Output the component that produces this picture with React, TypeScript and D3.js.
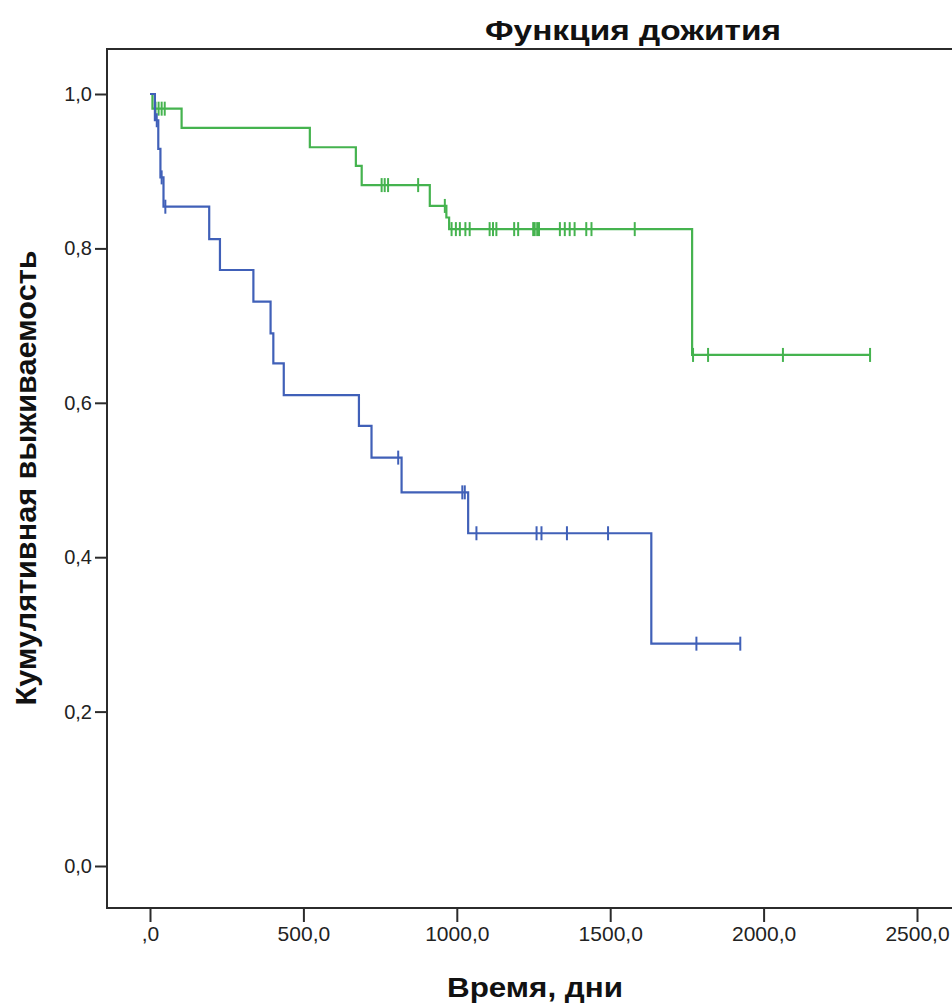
import * as d3 from "d3";
import { useEffect, useRef } from "react";

// Kaplan-Meier steps (time in days, survival after the event)
const greenTimes = [0, 8, 103, 521, 671, 690, 912, 966, 975, 1767];
const greenSurv = [1.0, 0.981, 0.956, 0.931, 0.907, 0.882, 0.855, 0.84, 0.825, 0.662];
const greenCensored = [18, 28, 38, 48, 755, 765, 776, 874, 961, 983, 997, 1010, 1028, 1042,
  1107, 1118, 1129, 1187, 1200, 1249, 1254, 1262, 1268, 1336, 1352, 1368, 1384, 1422, 1439,
  1580, 1770, 1819, 2063, 2347];

const blueTimes = [0, 16, 27, 34, 44, 193, 228, 337, 393, 402, 436, 681, 722, 820, 1037, 1634];
const blueSurv = [1.0, 0.966, 0.929, 0.892, 0.854, 0.812, 0.772, 0.731, 0.69, 0.651, 0.61,
  0.57, 0.529, 0.484, 0.431, 0.288];
const blueCensored = [22, 38, 50, 809, 1018, 1026, 1064, 1260, 1276, 1359, 1493, 1781, 1924];

const xTicks = [0, 500, 1000, 1500, 2000, 2500];
const yTicks = [0, 0.2, 0.4, 0.6, 0.8, 1.0];

const title = "Функция дожития";
const xLabel = "Время, дни";
const yLabel = "Кумулятивная выживаемость";

const groups = [
  { times: greenTimes, surv: greenSurv, censored: greenCensored, color: "#45b34f" },
  { times: blueTimes, surv: blueSurv, censored: blueCensored, color: "#4060b8" },
];

const App = () => {
  const ref = useRef<SVGSVGElement>(null);

  useEffect(() => {
    const width = 952, height = 1003;
    const frame = { left: 107, top: 49, bottom: 908, right: 960 };
    const svg = d3.select(ref.current);
    svg.selectAll("*").remove();

    const x = d3.scaleLinear().domain([0, 2500]).range([150, 917]);
    const y = d3.scaleLinear().domain([0, 1]).range([866, 94]);
    const loc = d3.formatLocale({ decimal: ",", thousands: "", grouping: [3], currency: ["", ""] });
    const f1 = loc.format(".1f");

    svg.attr("width", width).attr("height", height)
      .style("font-family", "'Liberation Sans', Arial, sans-serif");

    // frame
    svg.append("path")
      .attr("d", `M${frame.right},${frame.top}H${frame.left}V${frame.bottom}H${frame.right}`)
      .attr("fill", "none").attr("stroke", "#2b2b2b").attr("stroke-width", 2);

    const yAxis = svg.append("g")
      .attr("transform", `translate(${frame.left},0)`)
      .call(d3.axisLeft(y).tickValues(yTicks).tickSize(12).tickPadding(3).tickFormat((d) => f1(+d)));
    yAxis.select(".domain").remove();
    yAxis.selectAll("line").attr("stroke", "#2b2b2b").attr("stroke-width", 2);
    yAxis.selectAll("text").attr("font-size", 20).attr("fill", "#222")
      .attr("font-family", "'Liberation Sans', Arial, sans-serif");

    const xAxis = svg.append("g")
      .attr("transform", `translate(0,${frame.bottom})`)
      .call(d3.axisBottom(x).tickValues(xTicks).tickSize(14).tickPadding(4)
        .tickFormat((d) => (+d === 0 ? ",0" : f1(+d))));
    xAxis.select(".domain").remove();
    xAxis.selectAll("line").attr("stroke", "#2b2b2b").attr("stroke-width", 2);
    xAxis.selectAll("text").attr("font-size", 21).attr("fill", "#222")
      .attr("font-family", "'Liberation Sans', Arial, sans-serif");

    const line = d3.line<[number, number]>()
      .x((d) => x(d[0])).y((d) => y(d[1]))
      .curve(d3.curveStepAfter);

    groups.forEach((g) => {
      const lastT = d3.max(g.censored) as number;
      const pts: [number, number][] = g.times.map((t, i) => [t, g.surv[i]]);
      pts.push([lastT, g.surv[g.surv.length - 1]]);
      svg.append("path")
        .attr("d", line(pts))
        .attr("fill", "none").attr("stroke", g.color).attr("stroke-width", 2.2);

      const survAt = (t: number) => g.surv[d3.bisectRight(g.times, t) - 1];
      svg.append("g").selectAll("line")
        .data(g.censored)
        .enter().append("line")
        .attr("x1", (d) => x(d)).attr("x2", (d) => x(d))
        .attr("y1", (d) => y(survAt(d)) - 7).attr("y2", (d) => y(survAt(d)) + 7)
        .attr("stroke", g.color).attr("stroke-width", 2);
    });

    svg.append("text")
      .attr("x", 633).attr("y", 40)
      .attr("text-anchor", "middle").attr("font-weight", "bold").attr("font-size", 28)
      .attr("textLength", 296).attr("lengthAdjust", "spacingAndGlyphs")
      .attr("fill", "#111").text(title);

    svg.append("text")
      .attr("x", 535).attr("y", 997)
      .attr("text-anchor", "middle").attr("font-weight", "bold").attr("font-size", 27)
      .attr("textLength", 176).attr("lengthAdjust", "spacingAndGlyphs")
      .attr("fill", "#111").text(xLabel);

    svg.append("text")
      .attr("transform", "translate(36,478) rotate(-90)")
      .attr("text-anchor", "middle").attr("font-weight", "bold").attr("font-size", 30)
      .attr("textLength", 455).attr("lengthAdjust", "spacingAndGlyphs")
      .attr("fill", "#111").text(yLabel);
  }, []);

  return (
    <div style={{ position: "absolute", left: 0, top: 0, background: "#fff" }}>
      <svg ref={ref} style={{ display: "block" }} />
    </div>
  );
};

export default App;
